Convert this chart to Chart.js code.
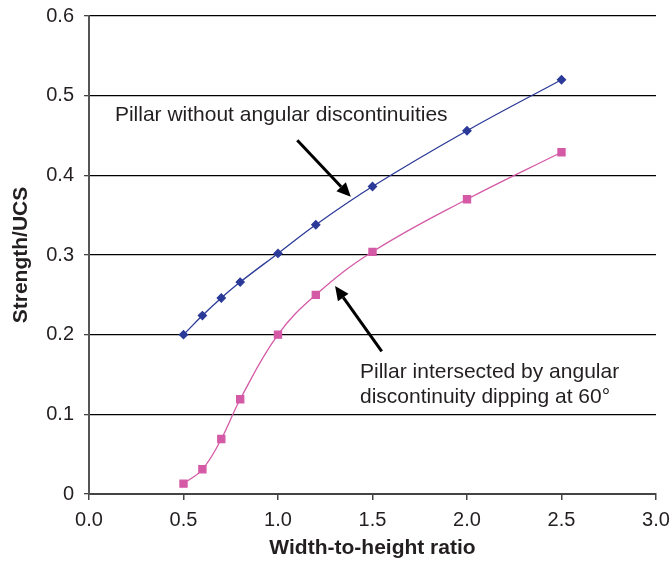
<!DOCTYPE html>
<html>
<head>
<meta charset="utf-8">
<script src="https://cdn.jsdelivr.net/npm/chart.js@4"></script>
<style>
    html, body { margin: 0; padding: 0; background: #fff; }
    #wrap { width: 672px; height: 565px; }
</style>
</head>
<body>
<div id="wrap"><canvas id="chart" width="672" height="565"></canvas></div>
<script>
// Данные
const ratios = [0.5, 0.6, 0.7, 0.8, 1.0, 1.2, 1.5, 2.0, 2.5];
const intactStrength = [0.200, 0.224, 0.246, 0.266, 0.302, 0.338, 0.386, 0.456, 0.520];
const jointedStrength = [0.013, 0.031, 0.069, 0.119, 0.200, 0.250, 0.304, 0.370, 0.429];
const xTicks = [0, 0.5, 1.0, 1.5, 2.0, 2.5, 3.0];
const yTicks = [0, 0.1, 0.2, 0.3, 0.4, 0.5, 0.6];

const toPoints = (xs, ys) => xs.map((x, i) => ({ x: x, y: ys[i] }));

// Плагин для подписей и стрелок
const notesPlugin = {
    id: 'notes',
    afterDatasetsDraw(chart) {
        const ctx = chart.ctx;
        const xs = chart.scales.x;
        const ys = chart.scales.y;

        const arrow = (x1, y1, x2, y2) => {
            const ax = xs.getPixelForValue(x1), ay = ys.getPixelForValue(y1);
            const bx = xs.getPixelForValue(x2), by = ys.getPixelForValue(y2);
            const ang = Math.atan2(by - ay, bx - ax);
            const head = 14, wing = 6.5;
            const hx = bx - head * Math.cos(ang), hy = by - head * Math.sin(ang);
            ctx.save();
            ctx.strokeStyle = '#000';
            ctx.fillStyle = '#000';
            ctx.lineWidth = 3;
            ctx.beginPath();
            ctx.moveTo(ax, ay);
            ctx.lineTo(hx, hy);
            ctx.stroke();
            ctx.beginPath();
            ctx.moveTo(bx, by);
            ctx.lineTo(hx + wing * Math.sin(ang), hy - wing * Math.cos(ang));
            ctx.lineTo(hx - wing * Math.sin(ang), hy + wing * Math.cos(ang));
            ctx.closePath();
            ctx.fill();
            ctx.restore();
        };

        const text = (lines, x, y, lh) => {
            ctx.save();
            ctx.fillStyle = '#231f20';
            ctx.font = '21px "Liberation Sans", Arial, sans-serif';
            ctx.textAlign = 'left';
            ctx.textBaseline = 'middle';
            const px = xs.getPixelForValue(x), py = ys.getPixelForValue(y);
            lines.forEach((l, i) => ctx.fillText(l, px, py + i * lh));
            ctx.restore();
        };

        arrow(1.102, 0.444, 1.385, 0.373);
        arrow(1.549, 0.179, 1.302, 0.261);
        text(['Pillar without angular discontinuities'], 0.137, 0.475, 0);
        text(['Pillar intersected by angular', 'discontinuity dipping at 60°'], 1.434, 0.153, 25);
    }
};

const config = {
    type: 'line',
    data: {
        datasets: [
            {
                label: 'Pillar without angular discontinuities',
                data: toPoints(ratios, intactStrength),
                borderColor: '#2b3a98',
                backgroundColor: '#2b3a98',
                borderWidth: 1.3,
                pointStyle: 'rectRot',
                pointRadius: 4,
                tension: 0.4,
            },
            {
                label: 'Pillar intersected by angular discontinuity dipping at 60°',
                data: toPoints(ratios, jointedStrength),
                borderColor: '#d45aa6',
                backgroundColor: '#d45aa6',
                borderWidth: 1.3,
                pointStyle: 'rect',
                pointRadius: 5,
                tension: 0.4,
            }
        ]
    },
    options: {
        responsive: false,
        animation: false,
        layout: { padding: { top: 16, right: 16, left: 0, bottom: 0 } },
        plugins: {
            legend: { display: false },
            tooltip: { enabled: false },
        },
        scales: {
            x: {
                type: 'linear',
                min: 0,
                max: 3,
                afterBuildTicks(scale) {
                    scale.ticks = xTicks.map(v => ({ value: v }));
                },
                afterFit(scale) {
                    scale.height = 71;
                    scale.paddingLeft = 0;
                    scale.paddingRight = 0;
                },
                grid: {
                    drawOnChartArea: false,
                    drawTicks: true,
                    tickLength: 6,
                    color: '#444',
                    lineWidth: 1.5,
                },
                border: { color: '#444', width: 2 },
                ticks: {
                    color: '#231f20',
                    padding: 8,
                    maxRotation: 0,
                    font: { family: '"Liberation Sans", Arial', size: 20 },
                    callback: v => v.toFixed(1),
                },
                title: {
                    display: true,
                    text: 'Width-to-height ratio',
                    color: '#231f20',
                    padding: { top: 3 },
                    font: { family: '"Liberation Sans", Arial', size: 21, weight: 'bold' },
                },
            },
            y: {
                type: 'linear',
                min: 0,
                max: 0.6,
                afterBuildTicks(scale) {
                    scale.ticks = yTicks.map(v => ({ value: v }));
                },
                afterFit(scale) {
                    scale.width = 89;
                    scale.paddingTop = 0;
                    scale.paddingBottom = 0;
                },
                grid: {
                    color: '#000',
                    lineWidth: 1.3,
                    tickLength: 5,
                    tickColor: '#444',
                },
                border: { color: '#555', width: 2 },
                ticks: {
                    color: '#231f20',
                    padding: 10,
                    font: { family: '"Liberation Sans", Arial', size: 20 },
                    callback: v => v === 0 ? '0' : v.toFixed(1),
                },
                title: {
                    display: true,
                    text: 'Strength/UCS',
                    color: '#231f20',
                    padding: { bottom: 0, top: 9 },
                    font: { family: '"Liberation Sans", Arial', size: 21, weight: 'bold' },
                },
            }
        }
    },
    plugins: [notesPlugin],
};

new Chart(document.getElementById('chart'), config);
</script>
</body>
</html>
